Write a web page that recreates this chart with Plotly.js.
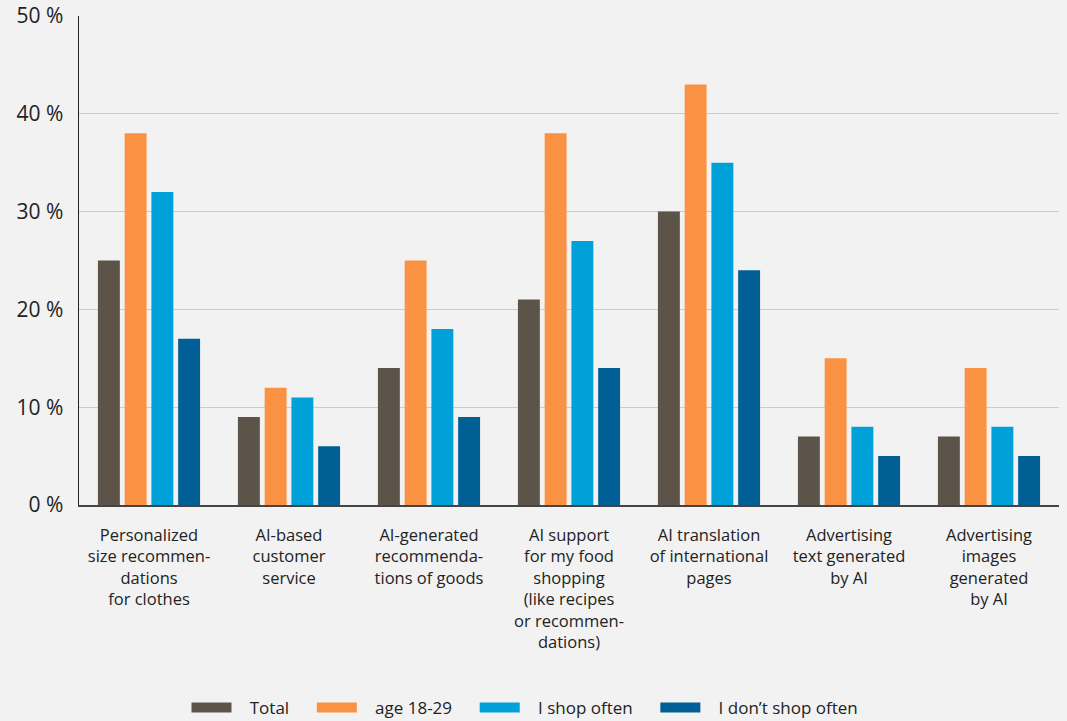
<!DOCTYPE html>
<html><head><meta charset="utf-8">
<script src="https://cdn.plot.ly/plotly-3.0.1.min.js"></script>
<style>html,body{margin:0;padding:0;background:#f2f2f2;}#c{width:1067px;height:721px;}</style>
</head><body><div id="c"></div>
<script>
const categories = [
  "Personalized<br>size recommen-<br>dations<br>for clothes",
  "AI-based<br>customer<br>service",
  "AI-generated<br>recommenda-<br>tions of goods",
  "AI support<br>for my food<br>shopping<br>(like recipes<br>or recommen-<br>dations)",
  "AI translation<br>of international<br>pages",
  "Advertising<br>text generated<br>by AI",
  "Advertising<br>images<br>generated<br>by AI"
];
const seriesNames = ["Total", "age 18-29", "I shop often", "I don’t shop often"];
const total = [25, 9, 14, 21, 30, 7, 7];
const age1829 = [38, 12, 25, 38, 43, 15, 14];
const shopOften = [32, 11, 18, 27, 35, 8, 8];
const notShopOften = [17, 6, 9, 14, 24, 5, 5];
const tickVals = [0, 10, 20, 30, 40, 50];
const tickText = ["0\u00a0%", "10\u00a0%", "20\u00a0%", "30\u00a0%", "40\u00a0%", "50\u00a0%"];

const colors = ["#5c5449", "#fb9243", "#00a1d9", "#005f94"];
const allVals = [total, age1829, shopOften, notShopOften];
const data = allVals.map((v, i) => ({
  type: "bar", x: categories, y: v, name: seriesNames[i], showlegend: false,
  marker: {color: colors[i]}, hoverinfo: "none"
}));
seriesNames.forEach((n, i) => data.push({
  type: "scatter", mode: "lines", x: [null], y: [null],
  name: "\u00a0\u00a0\u00a0" + n + "\u00a0\u00a0\u00a0\u00a0",
  line: {color: colors[i], width: 12}, hoverinfo: "none"
}));
const font = "'Open Sans', 'Noto Sans', sans-serif";
const layout = {
  width: 1067, height: 721,
  paper_bgcolor: "#f2f2f2", plot_bgcolor: "#f2f2f2",
  margin: {l: 79, r: 8, t: 16, b: 216},
  barmode: "group", bargap: 0.236, bargroupgap: 0.18,
  font: {family: font, color: "#222", size: 16.5},
  xaxis: {showline: true, linecolor: "#444", linewidth: 2, ticks: "", showgrid: false,
          tickfont: {size: 16.5, color: "#222"}, ticklabelstandoff: 14, automargin: false},
  yaxis: {range: [0, 50], tickvals: tickVals, ticktext: tickText, showgrid: true,
          gridcolor: "#cccccc", gridwidth: 1, showline: true, linecolor: "#222", linewidth: 1.5,
          zeroline: false, tickfont: {size: 21, color: "#222"}, ticks: "", ticklabelstandoff: 10, automargin: false},
  legend: {orientation: "h", x: 0.5, xanchor: "center", xref: "container", yref: "container",
           y: 0.018, yanchor: "middle",
           font: {size: 17, color: "#222"}, bgcolor: "rgba(0,0,0,0)", itemwidth: 40},
  showlegend: true
};
Plotly.newPlot("c", data, layout, {displayModeBar: false, staticPlot: true});
</script></body></html>
